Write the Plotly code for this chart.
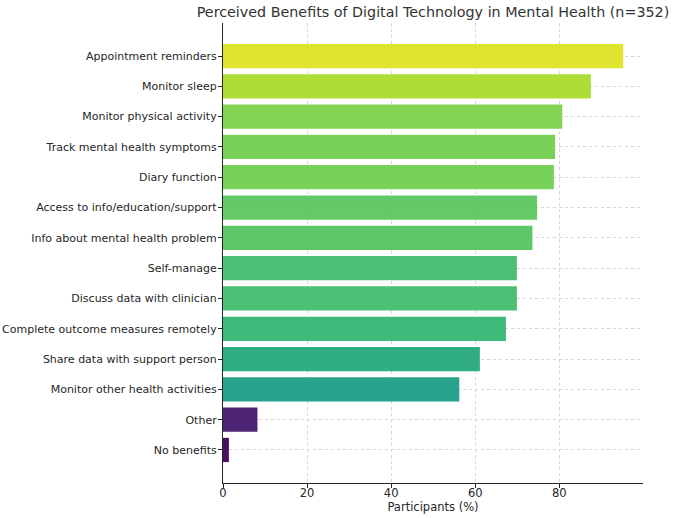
#!/usr/bin/env python3
"""Horizontal bar chart of perceived benefits of digital technology in mental health."""

import plotly.graph_objects as go

TITLE = "Perceived Benefits of Digital Technology in Mental Health (n=352)"

# top-to-bottom order as shown
benefits = [
    "Appointment reminders",
    "Monitor sleep",
    "Monitor physical activity",
    "Track mental health symptoms",
    "Diary function",
    "Access to info/education/support",
    "Info about mental health problem",
    "Self-manage",
    "Discuss data with clinician",
    "Complete outcome measures remotely",
    "Share data with support person",
    "Monitor other health activities",
    "Other",
    "No benefits",
]
participants_pct = [95.2, 87.5, 80.7, 79.0, 78.7, 74.7, 73.6, 69.9, 69.9, 67.3, 61.1, 56.2, 8.2, 1.4]

x_ticks = [0, 20, 40, 60, 80]

FONT = "DejaVu Sans"
TEXT = "#262626"
GRID = "#d6d6d6"
TICK_SIZE = 11


def main() -> None:
    n = len(benefits)
    fig = go.Figure(
        go.Bar(
            x=participants_pct,
            y=benefits,
            orientation="h",
            width=0.8,
            marker=dict(
                color=participants_pct,
                colorscale="Viridis",
                cmin=0,
                cmax=100,
                opacity=0.97,
                line=dict(width=0),
            ),
            hovertemplate="%{y}: %{x:.1f}%<extra></extra>",
        )
    )

    fig.update_layout(
        width=680,
        height=518,
        paper_bgcolor="white",
        plot_bgcolor="white",
        margin=dict(l=223, r=37, t=23, b=35),
        font=dict(family=FONT, size=TICK_SIZE, color=TEXT),
        title=dict(
            text=TITLE,
            font=dict(family=FONT, size=14.3, color="#333333"),
            x=(223 + 643) / 2 / 680,
            xanchor="center",
            y=1 - 12 / 518,
            yanchor="middle",
        ),
        showlegend=False,
        bargap=0.2,
    )

    fig.update_xaxes(
        range=[0, 99.9],
        tickvals=x_ticks,
        ticks="outside",
        ticklen=4,
        tickcolor=TEXT,
        tickfont=dict(size=TICK_SIZE + 0.5),
        ticklabelstandoff=-5,
        showline=True,
        linecolor=TEXT,
        linewidth=1.2,
        showgrid=True,
        gridcolor=GRID,
        griddash="dot",
        gridwidth=1,
        zeroline=False,
        automargin=False,
        title=dict(text="Participants (%)", font=dict(size=TICK_SIZE + 0.5), standoff=0),
    )
    fig.update_yaxes(
        type="category",
        categoryorder="array",
        categoryarray=benefits,
        range=[n - 1 + 1.09, -1.09],
        ticks="outside",
        ticklen=4,
        tickcolor=TEXT,
        ticklabelstandoff=-1,
        showline=True,
        linecolor=TEXT,
        linewidth=1.2,
        showgrid=True,
        gridcolor=GRID,
        griddash="dot",
        gridwidth=1,
        zeroline=False,
        automargin=False,
    )

    # drop the page's default body margin so the figure fills the window
    fig.write_html(
        "out.html",
        config={"displayModeBar": False},
        post_script="document.body.style.margin = '0';",
    )


if __name__ == "__main__":
    main()
